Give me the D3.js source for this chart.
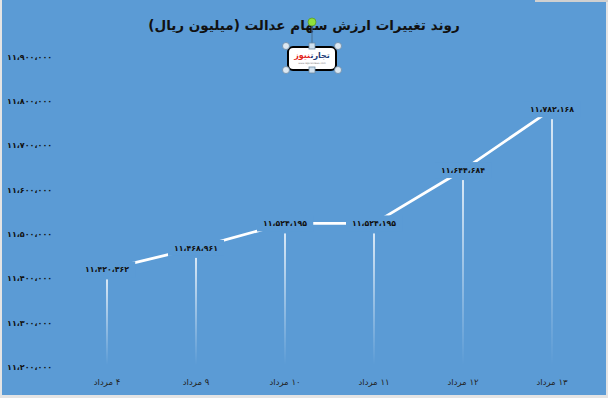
<!DOCTYPE html>
<html>
<head>
<meta charset="utf-8">
<script src="https://cdn.jsdelivr.net/npm/d3@7"></script>
<style>
  html, body { margin: 0; padding: 0; background: #e4e4e4; }
  svg { display: block; }
</style>
</head>
<body>
<div id="chart"></div>
<script>
// chart data
const days = ["۴ مرداد", "۹ مرداد", "۱۰ مرداد", "۱۱ مرداد", "۱۲ مرداد", "۱۳ مرداد"];
const values = [11420362, 11468961, 11524195, 11524195, 11644684, 11782168];
const yTicks = [11200000, 11300000, 11400000, 11500000, 11600000, 11700000, 11800000, 11900000];
const title = "روند تغییرات ارزش سهام عدالت (میلیون ریال)";

const width = 608, height = 398;
const blue = "#5b9bd5";

const faDigits = "۰۱۲۳۴۵۶۷۸۹";
function toFa(n) {
  return d3.format(",")(n).replace(/,/g, "،").replace(/\d/g, d => faDigits[d]);
}

const svg = d3.select("#chart").append("svg")
  .attr("width", width)
  .attr("height", height);

// background panel
svg.append("rect")
  .attr("x", 2).attr("y", 0)
  .attr("width", 604).attr("height", 395)
  .attr("fill", blue);
svg.append("rect")
  .attr("x", 535).attr("y", 0)
  .attr("width", 73).attr("height", 2)
  .attr("fill", "#d0d0d0");

const defs = svg.append("defs");
const grad = defs.append("linearGradient")
  .attr("id", "drop")
  .attr("x1", 0).attr("y1", 0).attr("x2", 0).attr("y2", 1);
grad.append("stop").attr("offset", "0%").attr("stop-color", "#fff").attr("stop-opacity", 0.95);
grad.append("stop").attr("offset", "100%").attr("stop-color", "#fff").attr("stop-opacity", 0);

const x = d3.scalePoint()
  .domain(days)
  .range([107, 552]);

const y = d3.scaleLinear()
  .domain([11200000, 11900000])
  .range([367, 57]);

// y tick labels
svg.append("g")
  .selectAll("text")
  .data(yTicks)
  .enter().append("text")
  .attr("x", 7)
  .attr("y", d => y(d))
  .attr("dy", "0.35em")
  .attr("font-family", "DejaVu Sans, sans-serif")
  .attr("font-weight", "bold")
  .attr("font-size", 8)
  .attr("fill", "#111")
  .text(d => toFa(d));

// drop lines
svg.append("g")
  .selectAll("rect")
  .data(values)
  .enter().append("rect")
  .attr("x", (d, i) => x(days[i]) - 0.8)
  .attr("y", d => y(d) + 10)
  .attr("width", 1.6)
  .attr("height", d => 365 - (y(d) + 10))
  .attr("fill", "url(#drop)");

// line
const line = d3.line()
  .x((d, i) => x(days[i]))
  .y(d => y(d));

svg.append("path")
  .datum(values)
  .attr("d", line)
  .attr("fill", "none")
  .attr("stroke", "#fff")
  .attr("stroke-width", 2.8);

// value labels with blue box to break the line
const lab = svg.append("g")
  .selectAll("g")
  .data(values)
  .enter().append("g")
  .attr("transform", (d, i) => `translate(${x(days[i])},${y(d)})`);

lab.each(function(d) {
  const g = d3.select(this);
  const t = g.append("text")
    .attr("text-anchor", "middle")
    .attr("dy", "0.35em")
    .attr("font-family", "DejaVu Sans, sans-serif")
    .attr("font-weight", "bold")
    .attr("font-size", 7.8)
    .attr("fill", "#111")
    .text(toFa(d));
  const bb = t.node().getBBox();
  g.insert("rect", "text")
    .attr("x", bb.x - 6)
    .attr("y", -8)
    .attr("width", bb.width + 12)
    .attr("height", 16)
    .attr("fill", blue);
});

// x labels
svg.append("g")
  .selectAll("text")
  .data(days)
  .enter().append("text")
  .attr("x", d => x(d))
  .attr("y", 382)
  .attr("dy", "0.35em")
  .attr("text-anchor", "middle")
  .attr("direction", "rtl")
  .attr("font-family", "DejaVu Sans, sans-serif")
  .attr("font-size", 8.5)
  .attr("fill", "#222")
  .text(d => d);

// title
svg.append("text")
  .attr("x", 304)
  .attr("y", 25)
  .attr("dy", "0.35em")
  .attr("text-anchor", "middle")
  .attr("direction", "rtl")
  .attr("font-family", "DejaVu Sans, sans-serif")
  .attr("font-weight", "bold")
  .attr("font-size", 13.5)
  .attr("fill", "#111")
  .text(title);

// logo with selection handles
const logo = svg.append("g").attr("transform", "translate(312,58)");
logo.append("line")
  .attr("x1", 0).attr("y1", -36).attr("x2", 0).attr("y2", -12)
  .attr("stroke", "#4a6f8f").attr("stroke-width", 1);
logo.append("rect")
  .attr("x", -24).attr("y", -11)
  .attr("width", 48).attr("height", 23)
  .attr("rx", 5)
  .attr("fill", "#fff")
  .attr("stroke", "#000")
  .attr("stroke-width", 2);
const lt = logo.append("text")
  .attr("y", 0)
  .attr("text-anchor", "middle")
  .attr("direction", "rtl")
  .attr("font-family", "DejaVu Sans, sans-serif")
  .attr("font-weight", "bold")
  .attr("font-size", 8);
lt.append("tspan").attr("fill", "#1d3c78").text("تجارت");
lt.append("tspan").attr("fill", "#e2231a").text("نیوز");
logo.append("text")
  .attr("y", 6)
  .attr("text-anchor", "middle")
  .attr("font-family", "DejaVu Sans, sans-serif")
  .attr("font-size", 2.5)
  .attr("fill", "#777")
  .text("www.tejaratnews.com");
[[-26, -12], [26, -12], [-26, 12], [26, 12]].forEach(p => {
  logo.append("circle")
    .attr("cx", p[0]).attr("cy", p[1]).attr("r", 3.5)
    .attr("fill", "#dce8f2").attr("stroke", "#6d8aa3").attr("stroke-width", 0.8);
});
[-12, 12].forEach(yy => {
  logo.append("rect")
    .attr("x", -3).attr("y", yy - 3).attr("width", 6).attr("height", 6)
    .attr("fill", "#cfe0ee").attr("stroke", "#6d8aa3").attr("stroke-width", 0.8);
});
logo.append("circle")
  .attr("cx", 0).attr("cy", -36).attr("r", 4)
  .attr("fill", "#8fe03a").attr("stroke", "#5a9a2a").attr("stroke-width", 0.8);
</script>
</body>
</html>
